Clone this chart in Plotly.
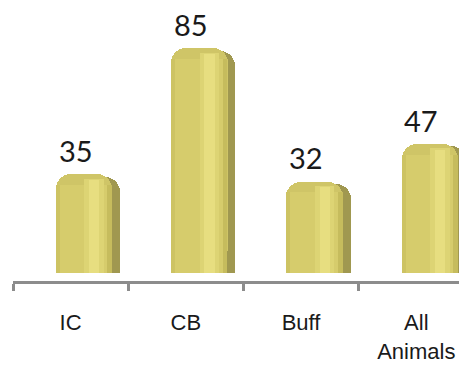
import plotly.graph_objects as go

categories = ["IC", "CB", "Buff", "All<br>Animals"]
values = [35, 85, 32, 47]
value_labels = ["35", "85", "32", "47"]

fig = go.Figure()

def bar(y, offset, width, color, base=None, radius=None):
    marker = dict(color=color, line=dict(width=0))
    if radius:
        marker["cornerradius"] = radius
    fig.add_trace(go.Bar(
        x=categories, y=y, base=base, offset=offset, width=width,
        marker=marker, hoverinfo="skip", showlegend=False,
    ))

# dark side face (depth)
bar([v + 3.3 for v in values], -0.075, 0.505, "#a09850", radius=15)
# top cap (rounded top of the 3D bar)
bar(values, -0.127, 0.49, "#cfc567", base=4.3, radius=15)
# front face
bar(values, -0.127, 0.486, "#d6cc6c")
# left darker shading of the front face
bar(values, -0.127, 0.035, "#cdc363")
# soft highlight band
bar([v + 2.5 for v in values], 0.12, 0.17, "#ddd474")
bar([v + 2.0 for v in values], 0.16, 0.09, "#e7de80")
# right darker edge of front face
bar(values, 0.32, 0.04, "#c6bc5d")

for c, v, t in zip(categories, values, value_labels):
    fig.add_annotation(x=c, y=v, text=t, showarrow=False, yanchor="bottom",
                       yshift=15, xshift=5,
                       font=dict(family="Lato, Open Sans, sans-serif", size=29, color="#1a1a1a"))

# page has an 8px body margin, so the figure is sized/positioned to compensate
fig.update_layout(
    width=459, height=359,
    margin=dict(l=5, r=0, t=0, b=86, autoexpand=False),
    paper_bgcolor="white", plot_bgcolor="white",
    barmode="overlay", bargap=0,
    xaxis=dict(
        type="category", range=[-0.5, 3.44], automargin=False,
        showline=True, linecolor="#8c8c8c", linewidth=3,
        ticks="outside", tickson="boundaries", ticklen=7, tickwidth=3, tickcolor="#8c8c8c",
        ticklabelstandoff=20,
        tickfont=dict(family="Liberation Sans, Arial, sans-serif", size=22, color="#1a1a1a"),
        showgrid=False, zeroline=False, fixedrange=True,
    ),
    yaxis=dict(range=[-3.17, 105.2], visible=False, showgrid=False, zeroline=False, automargin=False),
)

fig.write_html("out.html")
